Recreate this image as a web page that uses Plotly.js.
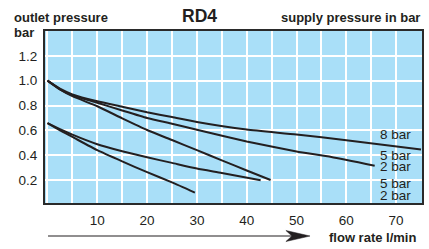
<!DOCTYPE html>
<html><head><meta charset="utf-8">
<script src="https://cdn.plot.ly/plotly-3.0.1.min.js"></script>
<style>html,body{margin:0;padding:0;background:#fff}#chart{width:429px;height:249px}</style>
</head><body><div id="chart"></div>
<script>
// Upper group (start at 1.0 bar)
const x8 = [0, 2.5, 5, 10, 15, 20, 25, 30, 40, 50, 60, 75];
const y8 = [1.0, 0.935, 0.89, 0.834, 0.79, 0.745, 0.707, 0.667, 0.606, 0.567, 0.52, 0.445];
const x5a = [0, 2.5, 5, 10, 15, 20, 25, 30, 40, 50, 57, 65.7];
const y5a = [1.0, 0.93, 0.882, 0.822, 0.76, 0.70, 0.653, 0.605, 0.51, 0.43, 0.385, 0.315];
const x2a = [0, 2.5, 5, 10, 15, 20, 25, 30, 35, 40, 44.8];
const y2a = [1.0, 0.93, 0.875, 0.794, 0.697, 0.603, 0.522, 0.441, 0.358, 0.277, 0.2];
// Lower group (start at 0.66 bar)
const x5b = [0, 2.5, 5, 10, 15, 20, 25, 30, 35, 42.8];
const y5b = [0.658, 0.61, 0.565, 0.488, 0.432, 0.383, 0.338, 0.293, 0.257, 0.198];
const x2b = [0, 2.5, 5, 10, 15, 20, 25, 29.6];
const y2b = [0.658, 0.60, 0.547, 0.44, 0.35, 0.263, 0.181, 0.099];

const labelText = ['8 bar', '5 bar', '2 bar', '5 bar', '2 bar'];
const labelY = [0.57, 0.40, 0.305, 0.17, 0.075];
const labelX = 66.3;

const xTicks = [10, 20, 30, 40, 50, 60, 70];
const yTicks = [0.2, 0.4, 0.6, 0.8, 1.0, 1.2];

const lineStyle = {color: '#231f20', width: 2};
const series = [[x8, y8], [x5a, y5a], [x2a, y2a], [x5b, y5b], [x2b, y2b]];
const traces = series.map(s => ({
  x: s[0], y: s[1], type: 'scatter', mode: 'lines',
  line: Object.assign({shape: 'spline', smoothing: 0.5}, lineStyle),
  hoverinfo: 'skip', showlegend: false
}));

const font = {family: 'Liberation Sans, Arial, sans-serif', color: '#231f20'};
const annotations = labelText.map((t, i) => ({
  text: t, x: labelX, y: labelY[i], xref: 'x', yref: 'y',
  xanchor: 'left', yanchor: 'middle', showarrow: false,
  font: Object.assign({size: 13.5}, font)
}));
annotations.push(
  {text: '<b>outlet pressure</b>', xref: 'paper', yref: 'paper', x: -0.088, y: 1.081, xanchor: 'left', yanchor: 'middle', showarrow: false, font: Object.assign({size: 13}, font)},
  {text: '<b>bar</b>', xref: 'paper', yref: 'paper', x: -0.088, y: 0.994, xanchor: 'left', yanchor: 'middle', showarrow: false, font: Object.assign({size: 13}, font)},
  {text: '<b>RD4</b>', xref: 'paper', yref: 'paper', x: 0.411, y: 1.087, xanchor: 'center', yanchor: 'middle', showarrow: false, font: Object.assign({size: 17.5}, font)},
  {text: '<b>supply pressure in bar</b>', xref: 'paper', yref: 'paper', x: 1.0, y: 1.081, xanchor: 'right', yanchor: 'middle', showarrow: false, font: Object.assign({size: 13}, font)},
  {text: '<b>flow rate l/min</b>', xref: 'paper', yref: 'paper', x: 0.99, y: -0.198, xanchor: 'right', yanchor: 'middle', showarrow: false, font: Object.assign({size: 13}, font)}
);

const layout = {
  width: 429, height: 249,
  margin: {l: 45, r: 7, t: 31, b: 46, pad: 0},
  paper_bgcolor: '#ffffff', plot_bgcolor: '#a9dff8',
  showlegend: false,
  xaxis: {
    range: [-0.5, 75.2], tickvals: xTicks, ticks: '', showline: true, linecolor: '#2a2a2a', linewidth: 2, mirror: true,
    showgrid: true, gridcolor: '#ffffff', gridwidth: 2, zeroline: false,
    minor: {dtick: 5, tick0: 0, showgrid: true, gridcolor: '#ffffff', gridwidth: 2, ticks: ''},
    tickfont: Object.assign({size: 13.5}, font), ticklabelstandoff: 4, fixedrange: true
  },
  yaxis: {
    range: [0.015, 1.4], tickvals: yTicks, ticktext: yTicks.map(v => v.toFixed(1)), ticks: '', showline: true, linecolor: '#2a2a2a', linewidth: 2, mirror: true,
    showgrid: true, gridcolor: '#ffffff', gridwidth: 2, zeroline: false,
    tickfont: Object.assign({size: 13.5}, font), ticklabelstandoff: 3, fixedrange: true
  },
  annotations: annotations,
  shapes: [
    {type: 'line', xref: 'paper', yref: 'paper', x0: 0.008, x1: 0.66, y0: -0.192, y1: -0.192, line: {color: '#231f20', width: 1.2}},
    {type: 'path', xref: 'paper', yref: 'paper', path: 'M 0.703 -0.192 L 0.639 -0.160 L 0.655 -0.192 L 0.639 -0.224 Z', fillcolor: '#231f20', line: {color: '#231f20', width: 0.5}}
  ]
};

Plotly.newPlot('chart', traces, layout, {staticPlot: true, displayModeBar: false});
</script>
</body></html>
